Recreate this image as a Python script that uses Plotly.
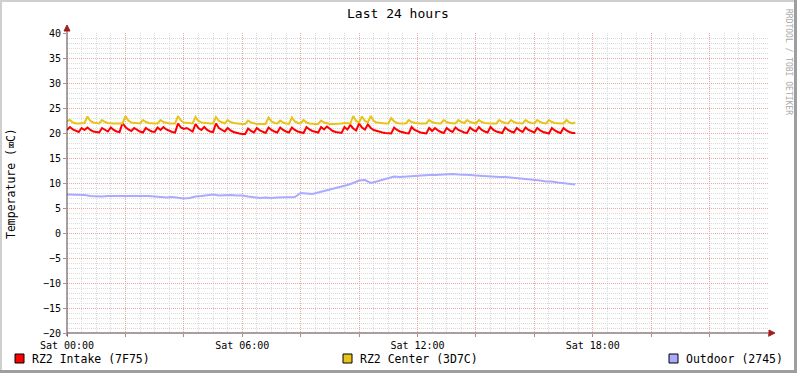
import plotly.graph_objects as go

# ---- data ----
hours_fine = [round(i * 0.1, 1) for i in range(175)]          # 0.0 .. 17.4 h
hours_outdoor = [round(i * 0.2, 1) for i in range(88)]        # 0.0 .. 17.4 h

rz2_intake = [
    20.6, 21.2, 20.7, 20.4, 20.2, 21.0, 20.6, 21.1, 20.6, 20.3,
    20.2, 20.1, 21.0, 20.6, 20.3, 21.1, 20.6, 20.3, 20.2, 22.0,
    21.2, 20.7, 20.4, 21.0, 20.6, 20.3, 20.1, 21.0, 20.6, 20.3,
    20.2, 21.1, 20.6, 21.2, 20.7, 20.4, 20.2, 20.1, 21.9, 21.1,
    20.8, 21.0, 20.6, 20.3, 21.8, 21.0, 20.6, 21.2, 20.6, 20.3,
    20.2, 21.9, 21.0, 20.6, 20.3, 21.0, 20.5, 20.2, 20.0, 19.9,
    19.8, 19.8, 20.9, 20.4, 20.1, 21.0, 20.5, 20.2, 20.0, 21.1,
    20.6, 20.3, 20.1, 21.1, 20.6, 20.3, 20.1, 21.1, 20.6, 20.3,
    20.1, 20.0, 21.2, 20.7, 20.4, 20.2, 20.1, 21.2, 20.7, 21.3,
    20.8, 20.4, 20.2, 20.1, 20.0, 21.2, 20.7, 21.6, 20.9, 20.5,
    21.9, 21.1, 20.7, 21.7, 21.0, 20.6, 20.4, 20.2, 20.1, 20.0,
    20.0, 19.9, 21.1, 20.6, 20.3, 20.1, 20.0, 19.9, 21.2, 20.6,
    20.3, 20.1, 20.0, 19.9, 21.0, 20.4, 21.0, 20.5, 20.2, 20.0,
    21.0, 20.5, 20.2, 21.1, 20.6, 20.3, 20.1, 20.0, 21.1, 20.6,
    20.3, 21.2, 20.6, 20.3, 20.1, 21.2, 20.6, 20.3, 20.1, 20.0,
    21.1, 20.6, 20.3, 20.1, 21.0, 20.5, 20.2, 21.1, 20.6, 20.3,
    20.1, 21.0, 20.5, 20.2, 20.0, 19.9, 21.0, 20.5, 20.2, 20.0,
    21.0, 20.5, 20.2, 20.0, 20.0,
]

rz2_center = [
    22.4, 22.6, 22.1, 21.9, 21.9, 21.9, 22.0, 23.3, 22.4, 22.1,
    22.0, 21.9, 22.6, 22.2, 22.0, 21.9, 21.9, 21.9, 21.9, 21.9,
    23.4, 22.5, 22.1, 22.0, 21.9, 21.9, 22.6, 22.2, 22.0, 21.9,
    21.9, 21.9, 22.6, 22.2, 22.0, 21.9, 21.9, 21.9, 23.4, 22.5,
    22.1, 22.0, 21.9, 21.9, 23.2, 22.4, 22.1, 22.0, 21.9, 21.9,
    21.9, 23.2, 22.4, 22.1, 21.9, 22.6, 22.2, 22.0, 21.9, 21.8,
    21.8, 21.8, 22.5, 22.1, 21.9, 21.8, 21.8, 21.8, 21.8, 23.1,
    22.3, 22.0, 21.9, 22.5, 22.1, 21.9, 21.8, 23.1, 22.3, 22.0,
    21.9, 22.6, 22.1, 21.9, 21.8, 21.8, 21.8, 22.5, 22.1, 21.9,
    21.8, 21.8, 21.8, 21.8, 21.9, 22.0, 21.9, 21.9, 23.4, 22.4,
    22.1, 23.3, 22.4, 22.1, 23.4, 22.4, 22.1, 22.0, 21.9, 21.9,
    21.9, 23.0, 22.3, 22.0, 21.9, 21.9, 21.9, 22.6, 22.2, 22.0,
    21.9, 21.9, 21.9, 21.9, 22.6, 22.2, 22.0, 21.9, 21.9, 22.6,
    22.2, 22.0, 21.9, 21.9, 22.6, 22.2, 22.0, 22.6, 22.2, 22.0,
    21.9, 22.6, 22.2, 22.0, 21.9, 21.9, 21.9, 21.9, 22.6, 22.2,
    22.0, 21.9, 22.6, 22.2, 22.0, 21.9, 21.9, 22.6, 22.2, 22.0,
    21.9, 22.6, 22.2, 22.0, 21.9, 22.6, 22.2, 22.0, 21.9, 21.9,
    21.9, 22.6, 22.1, 21.9, 22.1,
]

outdoor = [
    7.7, 7.7, 7.6, 7.6, 7.4, 7.3, 7.3, 7.4, 7.4, 7.5,
    7.5, 7.4, 7.5, 7.4, 7.4, 7.3, 7.2, 7.1, 7.2, 7.0,
    6.9, 7.0, 7.3, 7.4, 7.6, 7.7, 7.5, 7.6, 7.6, 7.5,
    7.5, 7.3, 7.2, 7.0, 7.1, 7.0, 7.1, 7.1, 7.2, 7.2,
    8.0, 7.9, 7.8, 8.1, 8.4, 8.6, 8.9, 9.2, 9.6, 10.0,
    10.5, 10.6, 10.0, 10.3, 10.6, 10.9, 11.3, 11.2, 11.3, 11.4,
    11.4, 11.5, 11.6, 11.6, 11.7, 11.7, 11.8, 11.7, 11.7, 11.6,
    11.5, 11.4, 11.4, 11.3, 11.2, 11.2, 11.1, 11.0, 10.9, 10.8,
    10.6, 10.5, 10.3, 10.3, 10.1, 10.0, 9.9, 9.7,
]

x_tick_vals = [0, 2, 4, 6, 8, 10, 12, 14, 16, 18, 20, 22, 24]
x_tick_text = ["Sat 00:00", "", "", "Sat 06:00", "", "", "Sat 12:00", "", "", "Sat 18:00", "", "", ""]
y_tick_vals = [40, 35, 30, 25, 20, 15, 10, 5, 0, -5, -10, -15, -20]

series_names = ["RZ2 Intake (7F75)", "RZ2 Center (3D7C)", "Outdoor (2745)"]
series_colors = ["#FF0000", "#E8C41A", "#AAAAFF"]

# ---- figure ----
W, H = 797, 373
L, R, T, B = 67, 29, 33, 40
PW, PH = W - L - R, H - T - B
FONT = "DejaVu Sans Mono"


def px(x):
    return (x - L) / PW


def py(y):
    return (H - B - y) / PH


fig = go.Figure()
fig.add_trace(go.Scatter(x=hours_fine, y=rz2_intake, mode="lines", name=series_names[0],
                         line=dict(color=series_colors[0], width=2)))
fig.add_trace(go.Scatter(x=hours_fine, y=rz2_center, mode="lines", name=series_names[1],
                         line=dict(color=series_colors[1], width=2)))
fig.add_trace(go.Scatter(x=hours_outdoor, y=outdoor, mode="lines", name=series_names[2],
                         line=dict(color=series_colors[2], width=2)))

major_grid = "#E8A8A8"
minor_grid = "#DADADA"

fig.update_xaxes(range=[0, 24], tickvals=x_tick_vals, ticktext=x_tick_text,
                 showgrid=True, gridcolor=major_grid, gridwidth=1, griddash="1px,1px",
                 minor=dict(dtick=0.5, tick0=0, showgrid=True, gridcolor=minor_grid,
                            griddash="1px,1px", gridwidth=1),
                 ticks="outside", ticklen=3, tickcolor="#D08080",
                 tickfont=dict(family=FONT, size=10, color="#000000"),
                 showline=False, zeroline=False, fixedrange=True)
fig.update_yaxes(range=[-20, 40], tickvals=y_tick_vals,
                 showgrid=True, gridcolor=major_grid, gridwidth=1, griddash="1px,1px",
                 minor=dict(dtick=1, tick0=0, showgrid=True, gridcolor=minor_grid,
                            griddash="1px,1px", gridwidth=1),
                 ticks="outside", ticklen=3, tickcolor="#D08080",
                 tickfont=dict(family=FONT, size=10, color="#000000"),
                 showline=False, zeroline=False, fixedrange=True)

shapes = []
# axes lines
shapes.append(dict(type="line", xref="paper", yref="paper", x0=px(67), x1=px(770), y0=py(333), y1=py(333),
                   line=dict(color="#504040", width=1)))
shapes.append(dict(type="line", xref="paper", yref="paper", x0=px(67), x1=px(67), y0=py(336), y1=py(30),
                   line=dict(color="#504040", width=1)))
# arrows
shapes.append(dict(type="path", xref="paper", yref="paper",
                   path=f"M {px(769)},{py(330)} L {px(775)},{py(333)} L {px(769)},{py(336)} Z",
                   fillcolor="#A02020", line=dict(color="#A02020", width=1)))
shapes.append(dict(type="path", xref="paper", yref="paper",
                   path=f"M {px(64)},{py(31)} L {px(67)},{py(25)} L {px(70)},{py(31)} Z",
                   fillcolor="#A02020", line=dict(color="#A02020", width=1)))
# frame
shapes.append(dict(type="rect", xref="paper", yref="paper", x0=px(0), x1=px(797), y0=py(0), y1=py(2),
                   fillcolor="#CFCFCF", line=dict(width=0)))
shapes.append(dict(type="rect", xref="paper", yref="paper", x0=px(0), x1=px(2), y0=py(0), y1=py(373),
                   fillcolor="#CFCFCF", line=dict(width=0)))
shapes.append(dict(type="rect", xref="paper", yref="paper", x0=px(0), x1=px(797), y0=py(370), y1=py(373),
                   fillcolor="#9E9E9E", line=dict(width=0)))
shapes.append(dict(type="rect", xref="paper", yref="paper", x0=px(794), x1=px(797), y0=py(0), y1=py(373),
                   fillcolor="#9E9E9E", line=dict(width=0)))

annotations = []
legend_x = [15, 343, 669]
for lx, name, col in zip(legend_x, series_names, series_colors):
    shapes.append(dict(type="rect", xref="paper", yref="paper", x0=px(lx), x1=px(lx + 9),
                       y0=py(354), y1=py(363), fillcolor=col, line=dict(color="#000000", width=1)))
    annotations.append(dict(xref="paper", yref="paper", x=px(lx + 15), y=py(358.5), text=name,
                            showarrow=False, xanchor="left", yanchor="middle",
                            font=dict(family=FONT, size=11.5, color="#000000")))

annotations.append(dict(xref="paper", yref="paper", x=px(398), y=py(13), text="Last 24 hours",
                        showarrow=False, xanchor="center", yanchor="middle",
                        font=dict(family=FONT, size=13, color="#000000")))
annotations.append(dict(xref="paper", yref="paper", x=px(11), y=py(184), text="Temperature (⌧C)",
                        showarrow=False, xanchor="center", yanchor="middle", textangle=-90,
                        font=dict(family=FONT, size=11.5, color="#000000")))
annotations.append(dict(xref="paper", yref="paper", x=px(789), y=py(62), text="RRDTOOL / TOBI OETIKER",
                        showarrow=False, xanchor="center", yanchor="middle", textangle=90,
                        font=dict(family=FONT, size=8, color="#AAAAAA")))

fig.update_layout(
    width=W, height=H,
    margin=dict(l=L, r=R, t=T, b=B),
    paper_bgcolor="#FFFFFF", plot_bgcolor="#FFFFFF",
    showlegend=False,
    shapes=shapes, annotations=annotations,
    font=dict(family=FONT, color="#000000"),
)

fig.write_html("out.html", config={"displayModeBar": False},
               post_script="document.body.style.margin='0';document.body.style.overflow='hidden';")
